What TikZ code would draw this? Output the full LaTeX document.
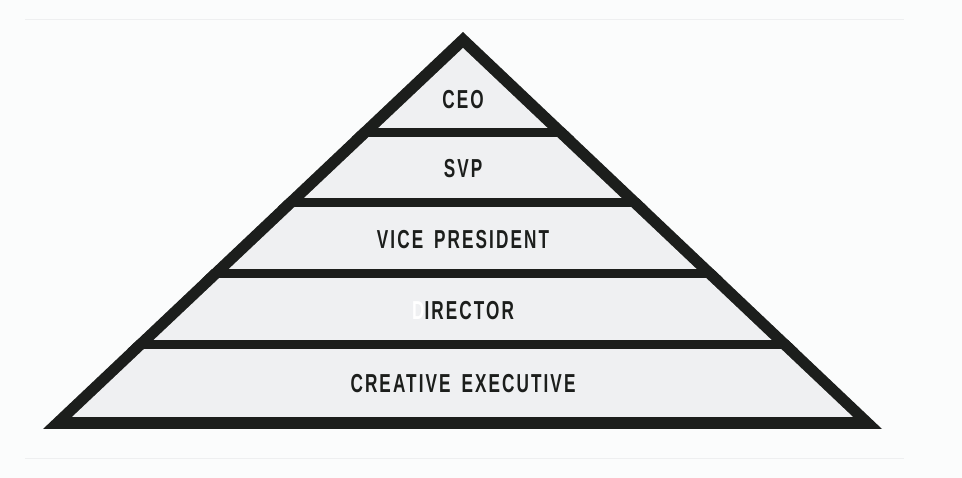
\documentclass[tikz,border=0pt]{standalone}
\usepackage{fontspec}
\newfontfamily\tierFont{Liberation Sans}[FakeStretch=0.66,LetterSpace=8,WordSpace=1.6]
\usetikzlibrary{positioning}
\definecolor{tierInk}{HTML}{1C1E1C}
\definecolor{tierFill}{HTML}{EFF0F2}
\definecolor{tierPage}{HTML}{FBFCFC}
\definecolor{tierRule}{HTML}{EEEFF0}
\tikzset{
  tierLabel/.style={
    text=tierInk,
    font=\tierFont\bfseries\fontsize{26}{26}\selectfont,
    inner sep=0pt,
    anchor=center
  },
  tierBar/.style={tierInk, line width=9pt},
  pageRule/.style={tierRule, line width=1pt}
}

\begin{document}
\begin{tikzpicture}[x=1pt,y=-1pt]
  \fill[tierPage] (0,0) rectangle (962,478);
  \useasboundingbox (0,0) rectangle (962,478);
  \draw[pageRule] (25,20) -- (904,20);
  \draw[pageRule] (25,459) -- (904,459);

  % pyramid outline and body
  \fill[tierInk] (463,32) -- (43,429) -- (882,429) -- cycle;
  \fill[tierFill] (463,48) -- (72,417) -- (853,417) -- cycle;
  \begin{scope}
    \clip (463,32) -- (43,429) -- (882,429) -- cycle;
    \foreach \y in {133,203,274,345}
      \draw[tierBar] (0,\y) -- (962,\y);
  \end{scope}

  \node[tierLabel] (ceo) at (463,100) {CEO};
  \node[tierLabel] (svp) at (463,169) {SVP};
  \node[tierLabel] (vp) at (463,240) {VICE PRESIDENT};
  \node[tierLabel] (director) at (463,311) {{\color{white}D}IRECTOR};
  \node[tierLabel] (creative) at (463,384) {CREATIVE EXECUTIVE};
\end{tikzpicture}
\end{document}
